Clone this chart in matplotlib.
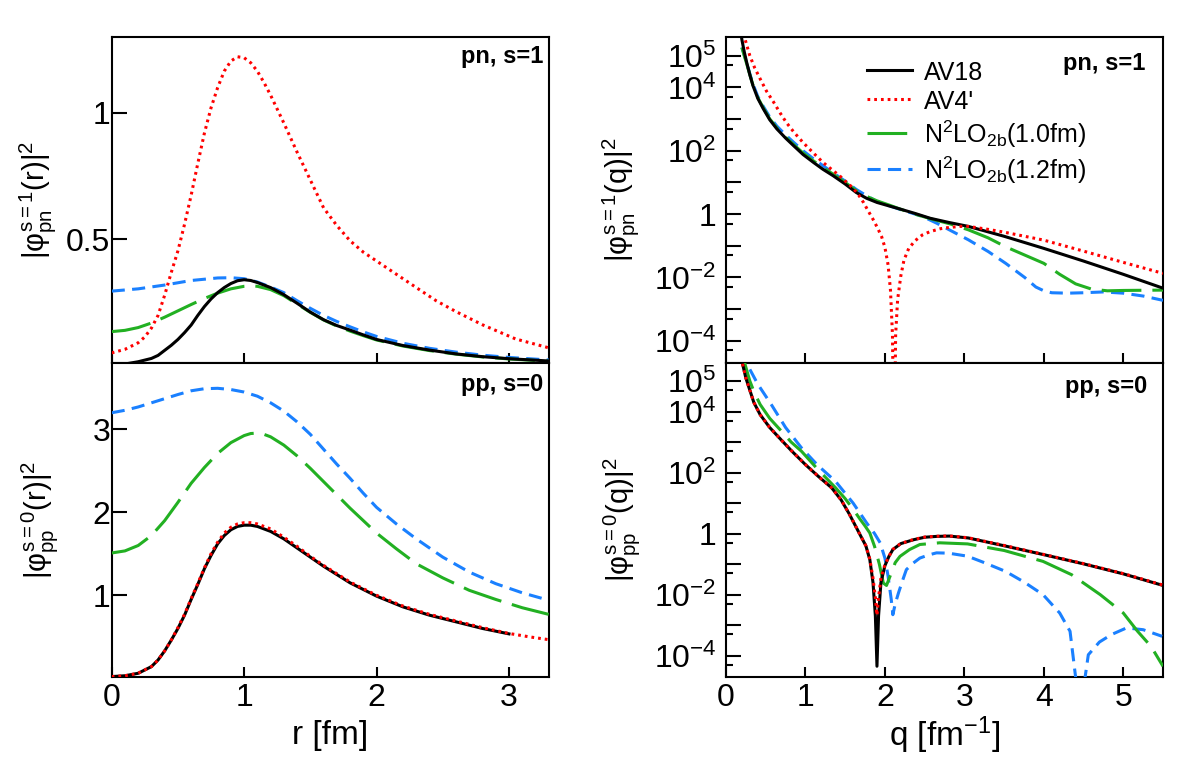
import numpy as np
import matplotlib
matplotlib.use("Agg")
import matplotlib.pyplot as plt
from matplotlib.ticker import FixedLocator, FixedFormatter

plt.rcParams['font.family'] = ['Liberation Sans', 'DejaVu Sans']
plt.rcParams['mathtext.fontset'] = 'custom'
plt.rcParams['mathtext.rm'] = 'Liberation Sans'
plt.rcParams['mathtext.it'] = 'Liberation Sans'
plt.rcParams['mathtext.bf'] = 'Liberation Sans:bold'
plt.rcParams['mathtext.sf'] = 'Liberation Sans'

# ---------------- data: r-space, pn s=1 ----------------
r_av18_pn = [0, 0.1, 0.2, 0.3, 0.35, 0.4, 0.45, 0.5, 0.55, 0.6, 0.65, 0.7, 0.75, 0.8, 0.85, 0.9, 0.95, 1.0, 1.05, 1.1, 1.2, 1.3, 1.4, 1.5, 1.6, 1.7, 1.8, 1.9, 2.0, 2.2, 2.4, 2.6, 2.8, 3.0, 3.3]
y_av18_pn = [0.003, 0.008, 0.017, 0.03, 0.042, 0.062, 0.082, 0.105, 0.132, 0.162, 0.2, 0.235, 0.265, 0.29, 0.31, 0.326, 0.337, 0.341, 0.338, 0.33, 0.31, 0.282, 0.248, 0.213, 0.183, 0.16, 0.142, 0.123, 0.105, 0.081, 0.063, 0.048, 0.037, 0.029, 0.02]
r_av4_pn = [0, 0.1, 0.2, 0.25, 0.3, 0.35, 0.4, 0.45, 0.5, 0.55, 0.6, 0.65, 0.7, 0.75, 0.8, 0.85, 0.9, 0.95, 1.0, 1.05, 1.1, 1.15, 1.2, 1.3, 1.4, 1.5, 1.6, 1.7, 1.8, 1.9, 2.0, 2.1, 2.2, 2.3, 2.45, 2.6, 2.8, 3.05, 3.3]
y_av4_pn = [0.052, 0.066, 0.092, 0.115, 0.15, 0.2, 0.28, 0.37, 0.455, 0.56, 0.675, 0.8, 0.92, 1.02, 1.1, 1.165, 1.205, 1.222, 1.218, 1.198, 1.165, 1.12, 1.07, 0.96, 0.845, 0.735, 0.625, 0.555, 0.495, 0.45, 0.415, 0.38, 0.345, 0.31, 0.258, 0.215, 0.163, 0.107, 0.072]
r_n10_pn = [0, 0.1, 0.2, 0.3, 0.4, 0.5, 0.6, 0.7, 0.8, 0.9, 1.0, 1.05, 1.1, 1.2, 1.3, 1.4, 1.5, 1.6, 1.7, 1.8, 1.9, 2.0, 2.2, 2.4, 2.6, 2.8, 3.0, 3.3]
y_n10_pn = [0.136, 0.141, 0.152, 0.17, 0.193, 0.218, 0.243, 0.267, 0.288, 0.305, 0.315, 0.317, 0.315, 0.302, 0.278, 0.245, 0.212, 0.182, 0.158, 0.138, 0.12, 0.103, 0.079, 0.061, 0.047, 0.036, 0.028, 0.019]
r_n12_pn = [0, 0.2, 0.4, 0.6, 0.8, 0.9, 1.0, 1.1, 1.2, 1.3, 1.4, 1.5, 1.6, 1.7, 1.8, 1.9, 2.0, 2.2, 2.4, 2.6, 2.8, 3.0, 3.3]
y_n12_pn = [0.296, 0.305, 0.32, 0.338, 0.348, 0.349, 0.345, 0.332, 0.312, 0.29, 0.258, 0.228, 0.2, 0.176, 0.155, 0.135, 0.117, 0.09, 0.07, 0.055, 0.043, 0.034, 0.024]

# ---------------- data: r-space, pp s=0 ----------------
r_av18_pp = [0, 0.1, 0.2, 0.3, 0.35, 0.4, 0.45, 0.5, 0.55, 0.6, 0.65, 0.7, 0.75, 0.8, 0.85, 0.9, 0.95, 1.0, 1.05, 1.1, 1.2, 1.3, 1.4, 1.5, 1.6, 1.7, 1.8, 1.9, 2.0, 2.2, 2.4, 2.6, 2.8, 3.0]
y_av18_pp = [0.02, 0.03, 0.06, 0.14, 0.22, 0.33, 0.46, 0.6, 0.76, 0.95, 1.13, 1.32, 1.48, 1.62, 1.72, 1.79, 1.83, 1.845, 1.845, 1.83, 1.77, 1.68, 1.57, 1.46, 1.35, 1.25, 1.15, 1.07, 0.99, 0.86, 0.76, 0.68, 0.6, 0.535]
r_av4_pp = [0, 0.1, 0.2, 0.3, 0.35, 0.4, 0.45, 0.5, 0.55, 0.6, 0.65, 0.7, 0.75, 0.8, 0.85, 0.9, 0.95, 1.0, 1.05, 1.1, 1.2, 1.3, 1.4, 1.5, 1.6, 1.7, 1.8, 1.9, 2.0, 2.2, 2.4, 2.6, 2.8, 3.0, 3.15, 3.3]
y_av4_pp = [0.02, 0.03, 0.06, 0.14, 0.22, 0.33, 0.46, 0.61, 0.77, 0.96, 1.14, 1.33, 1.5, 1.64, 1.75, 1.82, 1.86, 1.875, 1.875, 1.86, 1.8, 1.7, 1.59, 1.47, 1.36, 1.26, 1.16, 1.08, 1.0, 0.87, 0.77, 0.69, 0.61, 0.54, 0.5, 0.465]
r_n10_pp = [0, 0.1, 0.2, 0.3, 0.4, 0.5, 0.6, 0.7, 0.8, 0.9, 1.0, 1.05, 1.1, 1.15, 1.2, 1.3, 1.4, 1.5, 1.6, 1.7, 1.8, 1.9, 2.0, 2.15, 2.3, 2.5, 2.7, 2.9, 3.1, 3.3]
y_n10_pp = [1.51, 1.535, 1.6, 1.72, 1.9, 2.12, 2.35, 2.54, 2.71, 2.84, 2.925, 2.95, 2.955, 2.94, 2.91, 2.81, 2.68, 2.53, 2.37, 2.21, 2.05, 1.9, 1.75, 1.56, 1.38, 1.21, 1.06, 0.95, 0.85, 0.77]
r_n12_pp = [0, 0.1, 0.2, 0.3, 0.4, 0.5, 0.6, 0.7, 0.8, 0.9, 1.0, 1.1, 1.2, 1.3, 1.4, 1.5, 1.6, 1.7, 1.8, 1.9, 2.0, 2.15, 2.3, 2.5, 2.7, 2.9, 3.1, 3.3]
y_n12_pp = [3.2, 3.23, 3.27, 3.32, 3.37, 3.42, 3.465, 3.49, 3.495, 3.48, 3.45, 3.4, 3.32, 3.22, 3.09, 2.94, 2.76, 2.58, 2.41, 2.23, 2.06, 1.86, 1.68, 1.46, 1.28, 1.14, 1.03, 0.94]

# ---------------- data: q-space, pn s=1 ----------------
q_av18_pn = [0.18, 0.2, 0.23, 0.26, 0.3, 0.34, 0.4, 0.47, 0.55, 0.64, 0.75, 0.85, 0.97, 1.1, 1.22, 1.35, 1.5, 1.64, 1.77, 1.9, 2.05, 2.19, 2.38, 2.57, 2.8, 3.05, 3.5, 4.0, 4.5, 5.0, 5.5]
v_av18_pn = [7.1e5, 3.2e5, 1.32e5, 6.2e4, 2.5e4, 1.12e4, 4.5e3, 2.1e3, 955, 490, 251, 145, 76, 43, 26, 16.2, 8.9, 4.8, 3.16, 2.34, 1.82, 1.45, 1.05, 0.74, 0.55, 0.41, 0.2, 0.083, 0.033, 0.0126, 0.0046]
q_av4_pn = [0.2, 0.25, 0.3, 0.36, 0.43, 0.51, 0.6, 0.68, 0.76, 0.86, 0.97, 1.1, 1.22, 1.33, 1.43, 1.52, 1.6, 1.67, 1.73, 1.79, 1.85, 1.91, 1.96, 2.0, 2.04, 2.07, 2.095, 2.115, 2.135, 2.16, 2.2, 2.24, 2.3, 2.38, 2.47, 2.57, 2.7, 2.81, 2.95, 3.05, 3.3, 3.5, 4.0, 4.5, 5.0, 5.5]
v_av4_pn = [7.9e5, 2.7e5, 1e5, 4.2e4, 1.86e4, 7.6e3, 3.4e3, 1.58e3, 776, 372, 182, 85, 43, 25.7, 16.2, 10, 6.6, 3.98, 2.34, 1.26, 0.69, 0.355, 0.19, 0.089, 0.025, 4e-3, 1.6e-4, 1e-8, 1.6e-4, 2e-3, 0.0112, 0.0355, 0.083, 0.145, 0.219, 0.282, 0.347, 0.38, 0.41, 0.41, 0.33, 0.27, 0.151, 0.068, 0.03, 0.0135]
q_n10_pn = [0.2, 0.23, 0.26, 0.3, 0.34, 0.4, 0.47, 0.55, 0.64, 0.75, 0.85, 0.97, 1.1, 1.22, 1.35, 1.5, 1.64, 1.77, 1.9, 2.05, 2.19, 2.38, 2.57, 2.81, 3.05, 3.3, 3.52, 3.76, 4.0, 4.2, 4.4, 4.6, 4.8, 5.0, 5.5]
v_n10_pn = [1.82e5, 1e5, 5.6e4, 2.5e4, 1.17e4, 4.8e3, 2.24e3, 1.02e3, 525, 269, 158, 85, 48, 29.5, 18.2, 10, 5.5, 3.63, 2.63, 1.95, 1.45, 1.0, 0.72, 0.5, 0.32, 0.178, 0.093, 0.051, 0.028, 0.0126, 0.0063, 0.0043, 0.0038, 0.0039, 0.004]
q_n12_pn = [0.2, 0.23, 0.26, 0.3, 0.34, 0.4, 0.47, 0.55, 0.64, 0.75, 0.85, 0.97, 1.1, 1.22, 1.35, 1.5, 1.64, 1.77, 1.9, 2.05, 2.19, 2.33, 2.48, 2.65, 2.81, 3.05, 3.3, 3.52, 3.76, 3.9, 4.0, 4.1, 4.3, 4.5, 4.75, 5.0, 5.25, 5.5]
v_n12_pn = [1.82e5, 1.05e5, 6e4, 2.7e4, 1.26e4, 5.2e3, 2.5e3, 1.17e3, 600, 316, 186, 100, 56, 34, 20, 11, 6.0, 3.8, 2.5, 1.86, 1.41, 1.1, 0.83, 0.52, 0.32, 0.155, 0.066, 0.028, 0.01, 0.005, 0.0038, 0.0033, 0.0032, 0.0033, 0.0035, 0.0032, 0.0026, 0.0019]

# ---------------- data: q-space, pp s=0 ----------------
q_av18_pp = [0.18, 0.21, 0.25, 0.29, 0.35, 0.43, 0.55, 0.67, 0.83, 1.0, 1.16, 1.33, 1.45, 1.55, 1.62, 1.69, 1.76, 1.81, 1.85, 1.88, 1.9, 1.92, 1.95, 2.0, 2.05, 2.1, 2.2, 2.36, 2.5, 2.65, 2.81, 3.05, 3.5, 4.0, 4.5, 5.0, 5.5]
v_av18_pp = [1e6, 3.5e5, 1.26e5, 6e4, 2e4, 7.9e3, 3e3, 1.38e3, 500, 182, 76, 31.6, 12.6, 4.47, 2.0, 0.89, 0.4, 0.141, 0.025, 2e-3, 4.5e-5, 2e-3, 0.025, 0.089, 0.178, 0.3, 0.47, 0.63, 0.76, 0.81, 0.83, 0.72, 0.4, 0.204, 0.102, 0.048, 0.02]
q_av4_pp = [0.18, 0.21, 0.25, 0.29, 0.35, 0.43, 0.55, 0.67, 0.83, 1.0, 1.16, 1.33, 1.45, 1.55, 1.62, 1.69, 1.76, 1.81, 1.85, 1.88, 1.9, 1.92, 1.95, 2.0, 2.05, 2.1, 2.2, 2.36, 2.5, 2.65, 2.81, 3.05, 3.5, 4.0, 4.5, 5.0, 5.5]
v_av4_pp = [1e6, 3.5e5, 1.26e5, 6e4, 2e4, 7.9e3, 3e3, 1.38e3, 500, 182, 76, 31.6, 12.6, 4.47, 2.0, 0.89, 0.4, 0.145, 0.035, 8e-3, 2.1e-3, 8e-3, 0.035, 0.095, 0.18, 0.305, 0.475, 0.64, 0.77, 0.82, 0.84, 0.73, 0.41, 0.207, 0.104, 0.049, 0.0205]
q_n10_pp = [0.2, 0.24, 0.3, 0.36, 0.43, 0.55, 0.7, 0.82, 0.95, 1.15, 1.38, 1.5, 1.6, 1.69, 1.75, 1.81, 1.87, 1.93, 1.98, 2.02, 2.08, 2.13, 2.19, 2.31, 2.44, 2.69, 3.04, 3.5, 3.99, 4.35, 4.71, 5.0, 5.18, 5.35, 5.5]
v_n10_pp = [1e6, 3.5e5, 1e5, 4e4, 1.7e4, 6e3, 2.24e3, 1e3, 500, 132, 31.6, 14, 6.3, 2.9, 1.78, 1.05, 0.38, 0.1, 0.024, 0.02, 0.051, 0.112, 0.18, 0.3, 0.44, 0.5, 0.46, 0.28, 0.123, 0.045, 0.01, 2.5e-3, 6.3e-4, 2e-4, 4.5e-5]
q_n12_pp = [0.2, 0.29, 0.4, 0.57, 0.75, 0.95, 1.15, 1.38, 1.6, 1.77, 1.87, 1.94, 2.0, 2.04, 2.08, 2.1, 2.13, 2.17, 2.22, 2.27, 2.35, 2.44, 2.55, 2.65, 2.8, 3.04, 3.25, 3.52, 3.75, 3.99, 4.2, 4.33, 4.40, 4.46, 4.52, 4.56, 4.7, 4.85, 5.04, 5.25, 5.49]
v_n12_pp = [1e6, 2.7e5, 7.9e4, 1.7e4, 3e3, 646, 178, 51, 10, 2.24, 1.0, 0.5, 0.158, 0.04, 6.9e-3, 2.2e-3, 5e-3, 0.0112, 0.028, 0.066, 0.105, 0.158, 0.2, 0.234, 0.229, 0.182, 0.112, 0.0575, 0.026, 0.01, 2.5e-3, 6.3e-4, 2e-5, 1e-7, 2e-5, 1.07e-4, 2.8e-4, 4.9e-4, 8.1e-4, 7.1e-4, 4.3e-4]

labels = ["AV18", "AV4'", r"N$^{2}$LO$_{2b}$(1.0fm)", r"N$^{2}$LO$_{2b}$(1.2fm)"]
log_major = [1e-4, 1e-3, 1e-2, 1e-1, 1, 1e1, 1e2, 1e3, 1e4, 1e5]
log_major_labels = [r"$10^{-4}$", "", r"$10^{-2}$", "", "1", "", r"$10^{2}$", "", r"$10^{4}$", r"$10^{5}$"]
log_minor = [5e-5, 5e-4, 5e-3, 5e-2, 5e-1, 5, 50, 500, 5e3, 5e4]

# ---------------- styles ----------------
LW = 2.2
styles = [
    dict(color='black', lw=LW, ls='-'),
    dict(color='#ff0000', lw=LW, ls=(0, (0.9, 1.3))),
    dict(color='#22b022', lw=LW, ls=(0, (13, 3.6))),
    dict(color='#1a80ff', lw=LW, ls=(0, (4.3, 2.4))),
]

W, H = 1182, 757
fig = plt.figure(figsize=(W / 100, H / 100), dpi=100)
lx, rx, pw = 111.7 / W, 726 / W, 437 / W
ax_tl = fig.add_axes([lx, (H - 363) / H, pw, 326 / H])
ax_bl = fig.add_axes([lx, (H - 677) / H, pw, 314 / H])
ax_tr = fig.add_axes([rx, (H - 363) / H, pw, 326 / H])
ax_br = fig.add_axes([rx, (H - 677) / H, pw, 314 / H])

for ax in (ax_tl, ax_bl, ax_tr, ax_br):
    for s in ax.spines.values():
        s.set_linewidth(1.5)
    ax.tick_params(direction='in', width=1.5, labelsize=23, top=False, right=False)
    ax.tick_params(axis='x', length=7, pad=4)

# r-space panels
for ax, data in ((ax_tl, [(r_av18_pn, y_av18_pn), (r_av4_pn, y_av4_pn), (r_n10_pn, y_n10_pn), (r_n12_pn, y_n12_pn)]),
                 (ax_bl, [(r_av18_pp, y_av18_pp), (r_av4_pp, y_av4_pp), (r_n10_pp, y_n10_pp), (r_n12_pp, y_n12_pp)])):
    for i in [3, 2, 0, 1]:
        x, y = data[i]
        ax.plot(x, y, zorder=5 + (1 if i == 1 else 0), **styles[i])
    ax.set_xlim(0, 3.3)
    ax.set_xticks([0, 1, 2, 3])
    ax.tick_params(axis='y', length=11, pad=1)

ax_tl.set_ylim(0.012, 1.3)
ax_tl.set_yticks([0.5, 1])
ax_tl.set_yticklabels(['0.5', '1'])
ax_tl.tick_params(axis='x', labelbottom=False)
ax_bl.set_ylim(0.015, 3.8)
ax_bl.set_yticks([1, 2, 3])
ax_bl.set_xticklabels(['0', '1', '2', '3'])

# q-space panels
leg_handles = None
for ax, data in ((ax_tr, [(q_av18_pn, v_av18_pn), (q_av4_pn, v_av4_pn), (q_n10_pn, v_n10_pn), (q_n12_pn, v_n12_pn)]),
                 (ax_br, [(q_av18_pp, v_av18_pp), (q_av4_pp, v_av4_pp), (q_n10_pp, v_n10_pp), (q_n12_pp, v_n12_pp)])):
    hs = {}
    for i in [3, 2, 0, 1]:
        x, y = data[i]
        (h,) = ax.plot(x, y, label=labels[i], zorder=5 + (1 if i == 1 else 0), **styles[i])
        hs[i] = h
    if leg_handles is None:
        leg_handles = [hs[i] for i in range(4)]
    ax.set_yscale('log')
    ax.set_ylim(2e-5, 3.9e5)
    ax.set_xlim(0, 5.5)
    ax.set_xticks([0, 1, 2, 3, 4, 5])
    ax.yaxis.set_major_locator(FixedLocator(log_major))
    ax.yaxis.set_major_formatter(FixedFormatter(log_major_labels))
    ax.yaxis.set_minor_locator(FixedLocator(log_minor))
    ax.yaxis.set_minor_formatter(FixedFormatter([''] * len(log_minor)))
    ax.tick_params(axis='y', which='major', length=11, pad=7)
    ax.tick_params(axis='y', which='minor', direction='in', length=5, width=1.5, right=False)

ax_tr.tick_params(axis='x', labelbottom=False)
ax_br.set_xticklabels(['0', '1', '2', '3', '4', '5'])

ax_tr.legend(handles=leg_handles, labels=labels, loc='upper left', bbox_to_anchor=(0.322, 0.93),
             frameon=False, fontsize=18, handlelength=1.8, handletextpad=0.5,
             handleheight=1.0, labelspacing=0.18, borderpad=0, borderaxespad=0)

# labels
ylab_kw = dict(fontsize=21, va='center', ha='center')
ax_tl.set_ylabel(r"$|φ^{s=1}_{pn}(r)|^{2}$", **ylab_kw)
ax_tl.yaxis.set_label_coords(-0.169, 0.5)
ax_bl.set_ylabel(r"$|φ^{s=0}_{pp}(r)|^{2}$", **ylab_kw)
ax_bl.yaxis.set_label_coords(-0.165, 0.5)
ax_tr.set_ylabel(r"$|φ^{s=1}_{pn}(q)|^{2}$", **ylab_kw)
ax_tr.yaxis.set_label_coords(-0.242, 0.5)
ax_br.set_ylabel(r"$|φ^{s=0}_{pp}(q)|^{2}$", **ylab_kw)
ax_br.yaxis.set_label_coords(-0.238, 0.5)

ax_bl.set_xlabel("r [fm]", fontsize=24, va='center')
ax_bl.xaxis.set_label_coords(0.5, -0.185)
ax_br.set_xlabel(r"q [fm$^{-1}$]", fontsize=24, va='center')
ax_br.xaxis.set_label_coords(0.5, -0.185)

tag_kw = dict(fontsize=17, fontweight='bold', ha='right', va='center')
ax_tl.text(0.988, 0.939, "pn, s=1", transform=ax_tl.transAxes, **tag_kw)
ax_bl.text(0.988, 0.93, "pp, s=0", transform=ax_bl.transAxes, **tag_kw)
ax_tr.text(0.959, 0.92, "pn, s=1", transform=ax_tr.transAxes, **tag_kw)
ax_br.text(0.963, 0.925, "pp, s=0", transform=ax_br.transAxes, **tag_kw)

fig.savefig("out.png", dpi=100)
